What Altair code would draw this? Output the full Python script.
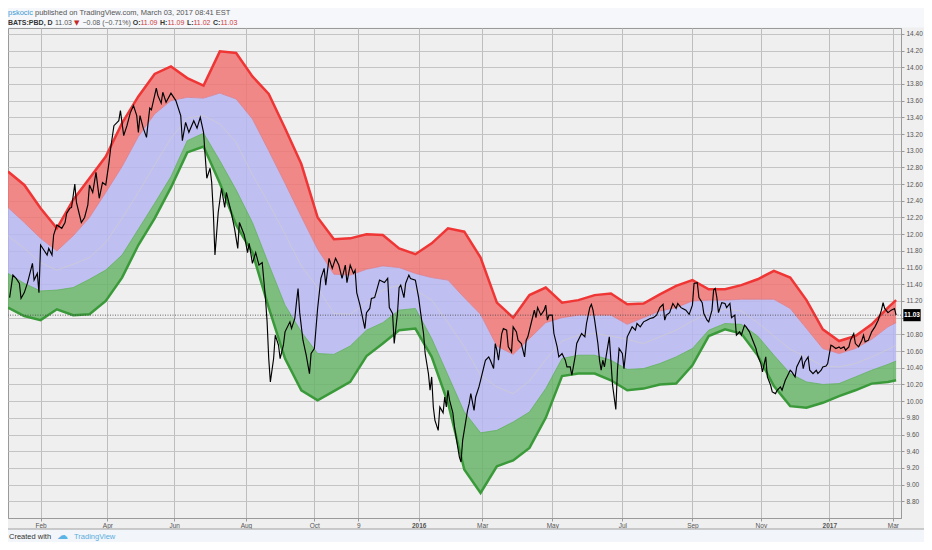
import altair as alt
import pandas as pd

# ---------------- data ----------------
# bar index (trading days since 2 Jan 2015) for the band samples
band_idx = [0, 10, 20, 30, 40, 50, 60, 70, 80, 90, 100, 110, 120, 130, 140, 150, 160, 170, 180, 190,
            200, 210, 220, 230, 240, 250, 260, 270, 280, 290, 300, 310, 320, 330, 340, 350, 360, 370,
            380, 390, 400, 410, 420, 430, 440, 450, 460, 470, 480, 490, 500, 510, 520, 530, 540, 545]
upper = [12.75, 12.59, 12.31, 12.07, 12.41, 12.67, 12.93, 13.33, 13.65, 13.92, 14.01, 13.87, 13.78, 14.19,
         14.17, 13.89, 13.68, 13.27, 12.84, 12.20, 11.94, 11.95, 12.00, 11.99, 11.83, 11.76, 11.89, 12.07,
         12.03, 11.72, 11.18, 11.00, 11.27, 11.36, 11.18, 11.21, 11.27, 11.29, 11.16, 11.17, 11.28, 11.38,
         11.45, 11.34, 11.34, 11.39, 11.46, 11.56, 11.48, 11.21, 10.86, 10.72, 10.78, 10.92, 11.12, 11.21]
upper_in = [12.32, 12.14, 11.95, 11.80, 11.98, 12.20, 12.50, 12.81, 13.17, 13.44, 13.60, 13.64, 13.63, 13.69,
            13.62, 13.38, 13.00, 12.61, 12.21, 11.82, 11.52, 11.51, 11.58, 11.62, 11.60, 11.53, 11.48, 11.45,
            11.24, 11.04, 10.66, 10.56, 10.75, 10.94, 11.00, 11.03, 11.03, 11.03, 10.92, 11.00, 11.08, 11.12,
            11.20, 11.21, 11.21, 11.22, 11.22, 11.22, 11.11, 10.87, 10.63, 10.57, 10.63, 10.74, 10.89, 10.94]
middle = [11.98, 11.83, 11.66, 11.57, 11.64, 11.72, 11.90, 12.19, 12.50, 12.83, 13.15, 13.39, 13.42, 13.32,
          13.10, 12.71, 12.37, 12.00, 11.62, 11.36, 11.05, 11.04, 11.18, 11.33, 11.39, 11.33, 11.21, 10.94,
          10.65, 10.31, 10.17, 10.09, 10.24, 10.50, 10.72, 10.79, 10.81, 10.78, 10.74, 10.69, 10.77, 10.85,
          10.96, 11.06, 11.10, 11.08, 10.94, 10.78, 10.62, 10.53, 10.42, 10.41, 10.45, 10.53, 10.62, 10.67]
lower_in = [11.53, 11.41, 11.32, 11.33, 11.36, 11.46, 11.57, 11.75, 12.06, 12.37, 12.69, 13.12, 13.21, 12.88,
            12.53, 12.14, 11.64, 11.15, 10.83, 10.57, 10.56, 10.66, 10.85, 10.94, 11.09, 11.11, 10.75, 10.31,
            9.87, 9.62, 9.65, 9.75, 9.87, 10.15, 10.51, 10.55, 10.55, 10.49, 10.38, 10.39, 10.45, 10.53,
            10.63, 10.85, 10.93, 10.92, 10.78, 10.55, 10.33, 10.23, 10.20, 10.21, 10.29, 10.37, 10.44, 10.48]
lower = [11.12, 11.02, 10.97, 11.10, 11.03, 11.04, 11.20, 11.48, 11.87, 12.19, 12.56, 12.98, 13.05, 12.61,
         12.11, 11.78, 11.12, 10.51, 10.13, 10.01, 10.12, 10.23, 10.54, 10.69, 10.85, 10.87, 10.53, 9.98,
         9.18, 8.90, 9.22, 9.29, 9.44, 9.80, 10.30, 10.33, 10.33, 10.25, 10.13, 10.15, 10.20, 10.21,
         10.43, 10.78, 10.86, 10.81, 10.55, 10.18, 9.94, 9.92, 9.98, 10.06, 10.13, 10.21, 10.23, 10.25]

price_idx = [1, 3, 5, 7, 8, 10, 12, 15, 16, 18, 19, 20, 21, 24, 25, 27, 28, 30, 33, 35, 36, 38, 39, 41, 42,
             45, 47, 49, 50, 52, 54, 56, 58, 60, 62, 63, 65, 67, 68, 69, 71, 73, 75, 77, 79, 80, 81, 83, 85,
             86, 87, 88, 91, 92, 94, 95, 97, 100, 103, 106, 107, 109, 111, 114, 116, 118, 120, 121, 122, 124,
             125, 126, 127, 129, 131, 133, 134, 137, 139, 141, 142, 145, 147, 148, 150, 152, 154, 156, 158,
             159, 160, 161, 163, 164, 166, 167, 169, 170, 173, 174, 176, 177, 178, 179, 181, 183, 185, 186,
             188, 190, 192, 194, 195, 197, 199, 201, 203, 205, 207, 208, 210, 212, 213, 214, 216, 219, 220,
             222, 223, 225, 228, 231, 233, 234, 236, 237, 239, 240, 241, 243, 244, 246, 247, 250, 252, 253,
             255, 256, 258, 259, 260, 261, 262, 264, 265, 267, 268, 269, 270, 271, 273, 274, 276, 277, 278,
             279, 281, 282, 283, 284, 286, 287, 289, 290, 292, 293, 295, 296, 298, 299, 300, 301, 303, 304,
             306, 307, 309, 310, 312, 313, 315, 317, 318, 319, 321, 323, 324, 325, 327, 329, 330, 331, 332,
             334, 335, 337, 338, 340, 341, 342, 343, 345, 346, 348, 349, 351, 352, 354, 355, 357, 358, 359,
             360, 362, 363, 364, 365, 366, 367, 368, 369, 371, 373, 374, 375, 377, 378, 379, 380, 382, 383,
             385, 386, 388, 390, 392, 394, 396, 398, 400, 402, 403, 404, 406, 408, 410, 411, 413, 414, 416,
             418, 420, 421, 423, 424, 426, 427, 429, 430, 432, 433, 434, 435, 436, 438, 440, 441, 443, 444,
             446, 447, 449, 450, 452, 453, 455, 457, 459, 460, 462, 463, 465, 466, 468, 469, 471, 472, 474,
             475, 477, 478, 480, 481, 483, 484, 486, 487, 488, 489, 491, 492, 494, 496, 497, 499, 500, 502,
             503, 505, 506, 508, 510, 511, 513, 514, 516, 517, 519, 520, 522, 524, 525, 526, 528, 530, 532,
             534, 536, 537, 538, 540, 542, 544, 545]
price_val = [11.24, 11.51, 11.47, 11.41, 11.23, 11.30, 11.42, 11.65, 11.45, 11.53, 11.30, 11.87, 11.84, 11.75,
             11.83, 11.75, 11.99, 12.11, 12.07, 12.14, 12.25, 12.31, 12.32, 12.60, 12.38, 12.14, 12.20, 12.35,
             12.59, 12.50, 12.74, 12.43, 12.62, 12.59, 12.86, 13.03, 13.30, 13.34, 13.36, 13.48, 13.18, 13.30,
             13.45, 13.54, 13.42, 13.22, 13.42, 13.27, 13.16, 13.34, 13.51, 13.49, 13.75, 13.66, 13.57, 13.70,
             13.58, 13.69, 13.60, 13.42, 13.12, 13.34, 13.22, 13.36, 13.27, 13.40, 13.22, 12.94, 12.67, 12.79,
             12.62, 12.26, 11.75, 12.26, 12.55, 12.32, 12.50, 12.26, 12.07, 11.83, 12.14, 11.99, 11.78, 11.89,
             11.65, 11.78, 11.63, 11.66, 11.23, 10.95, 10.51, 10.23, 10.51, 10.79, 10.67, 10.51, 10.67, 10.83,
             10.95, 10.87, 10.99, 11.18, 11.35, 11.06, 10.73, 10.55, 10.33, 10.57, 10.63, 11.11, 11.47, 11.59,
             11.39, 11.71, 11.59, 11.71, 11.63, 11.47, 11.63, 11.42, 11.63, 11.53, 11.57, 11.30, 11.15, 10.87,
             11.06, 11.11, 11.23, 11.24, 11.45, 11.42, 11.47, 11.12, 11.05, 10.69, 11.05, 11.36, 11.39, 11.24,
             11.41, 11.51, 11.47, 11.45, 11.24, 11.09, 10.81, 10.57, 10.33, 10.13, 10.29, 9.93, 9.77, 9.65,
             9.93, 9.86, 10.05, 9.93, 10.13, 10.01, 9.86, 9.69, 9.45, 9.33, 9.27, 9.53, 9.77, 9.89, 9.97,
             10.09, 9.89, 10.05, 10.17, 10.25, 10.41, 10.49, 10.53, 10.49, 10.39, 10.69, 10.61, 10.49, 10.81,
             10.87, 10.85, 10.65, 10.59, 10.89, 10.83, 10.73, 10.69, 10.53, 10.73, 10.77, 10.93, 11.09, 11.00,
             11.12, 11.03, 11.09, 11.15, 10.97, 11.03, 11.03, 10.81, 10.65, 10.53, 10.57, 10.53, 10.49, 10.41,
             10.41, 10.31, 10.53, 10.69, 10.77, 10.81, 10.77, 10.93, 11.12, 11.16, 11.09, 10.97, 10.69, 10.49,
             10.37, 10.49, 10.41, 10.53, 10.65, 10.77, 10.19, 9.90, 10.37, 10.63, 10.57, 10.39, 10.57, 10.77,
             10.85, 10.89, 10.85, 10.93, 10.89, 10.95, 10.97, 10.99, 11.00, 11.03, 11.12, 11.16, 10.97, 11.03,
             11.06, 11.17, 11.11, 11.17, 11.12, 11.11, 11.09, 11.04, 11.15, 11.41, 11.42, 11.24, 11.18, 11.05,
             10.97, 10.95, 11.09, 11.33, 11.35, 11.24, 11.06, 11.18, 11.17, 11.12, 11.17, 11.00, 11.03, 10.79,
             10.83, 10.79, 10.91, 10.89, 10.83, 10.73, 10.63, 10.55, 10.45, 10.35, 10.53, 10.29, 10.19, 10.11,
             10.09, 10.13, 10.17, 10.13, 10.25, 10.29, 10.37, 10.35, 10.29, 10.41, 10.49, 10.53, 10.39, 10.47,
             10.53, 10.37, 10.33, 10.37, 10.33, 10.37, 10.41, 10.42, 10.45, 10.67, 10.66, 10.63, 10.65, 10.63,
             10.65, 10.61, 10.65, 10.73, 10.81, 10.69, 10.65, 10.73, 10.79, 10.71, 10.73, 10.83, 10.89, 10.97,
             11.09, 11.18, 11.11, 11.06, 11.09, 11.11, 11.03]

tick_idx = [20, 61, 102, 146, 188, 215, 252, 291, 334, 377, 420, 462, 504, 543]
tick_lab = ["Feb", "Apr", "Jun", "Aug", "Oct", "9", "2016", "Mar", "May", "Jul", "Sep", "Nov", "2017", "Mar"]
bold_lab = ["2016", "2017"]
y_ticks = [8.8, 9.0, 9.2, 9.4, 9.6, 9.8, 10.0, 10.2, 10.4, 10.6, 10.8, 11.0, 11.2, 11.4, 11.6, 11.8,
           12.0, 12.2, 12.4, 12.6, 12.8, 13.0, 13.2, 13.4, 13.6, 13.8, 14.0, 14.2, 14.4]
hidden_y_label = 11.0   # covered by the last-price tag in the reference
last_close = [11.03]

header_user = "pskocic"
header_rest = "published on TradingView.com, March 03, 2017 08:41 EST"
header_sym = "BATS:PBD, D"
header_last = "11.03"
header_chg = "\u22120.08 (\u22120.71%)"
ohlc_keys = ["O:", "H:", "L:", "C:"]
ohlc_vals = ["11.09", "11.09", "11.02", "11.03"]

# ---------------- chart ----------------
W, H = 893, 490
FONT = "Liberation Sans"

bands = pd.DataFrame({"i": band_idx, "upper": upper, "upper_in": upper_in, "mid": middle,
                      "lower_in": lower_in, "lower": lower})
price = pd.DataFrame({"i": price_idx, "close": price_val})
lastdf = pd.DataFrame({"v": last_close})
one = pd.DataFrame({"k": [0]})

xs = alt.Scale(domain=[0, 548], nice=False, zero=False)
ys = alt.Scale(domain=[8.60, 14.47], nice=False, zero=False)

label_expr = ("[" + ",".join("'%s'" % l for l in tick_lab) + "][indexof(["
              + ",".join(str(t) for t in tick_idx) + "], datum.value)]")
bold_test = " || ".join("datum.value == %d" % t for t, l in zip(tick_idx, tick_lab) if l in bold_lab)
ylabel_expr = "abs(datum.value - %s) < 0.001 ? '' : format(datum.value, '.2f')" % hidden_y_label

xaxis = alt.Axis(values=tick_idx, labelExpr=label_expr, title=None, orient="bottom", grid=True,
                 gridColor="#bdbdbd", gridWidth=1, tickSize=3, tickColor="#9a9a9a", domainColor="#9a9a9a",
                 labelFontSize=6.5, labelColor="#555555", labelPadding=1, labelFont=FONT,
                 labelFontWeight={"condition": {"test": bold_test, "value": "bold"}, "value": "normal"})
yaxis = alt.Axis(values=y_ticks, labelExpr=ylabel_expr, title=None, orient="right", grid=True,
                 gridColor="#c4c4c4", gridWidth=1, tickSize=3, tickColor="#9a9a9a", domainColor="#9a9a9a",
                 labelFontSize=6.5, labelColor="#555555", labelPadding=2, labelFont=FONT)

X = alt.X("i:Q", scale=xs, axis=xaxis)


def Y(f):
    return alt.Y(f + ":Q", scale=ys, axis=yaxis)


base = alt.Chart(bands)
red_fill = base.mark_area(color="#f07676", opacity=0.85).encode(x=X, y=Y("upper"), y2="upper_in")
blue_fill = base.mark_area(color="#b6b6f2", opacity=0.85).encode(x=X, y=Y("upper_in"), y2="lower_in")
green_fill = base.mark_area(color="#68b468", opacity=0.85).encode(x=X, y=Y("lower_in"), y2="lower")
ui_line = base.mark_line(color="#e07a86", strokeWidth=0.8).encode(x=X, y=Y("upper_in"))
mid_line = base.mark_line(color="#d6d0c2", strokeWidth=0.8, opacity=0.7).encode(x=X, y=Y("mid"))
li_line = base.mark_line(color="#5fae5f", strokeWidth=0.8).encode(x=X, y=Y("lower_in"))
up_line = base.mark_line(color="#f03535", strokeWidth=2.5).encode(x=X, y=Y("upper"))
lo_line = base.mark_line(color="#3a9a3a", strokeWidth=2.5).encode(x=X, y=Y("lower"))
price_line = alt.Chart(price).mark_line(color="#000000", strokeWidth=1.15).encode(x=X, y=Y("close"))

last_rule = alt.Chart(lastdf).mark_rule(color="#444444", strokeWidth=0.8, strokeDash=[1, 1.5]).encode(y=Y("v"))
last_box = alt.Chart(lastdf).mark_point(shape="M-1,-0.7L1,-0.7L1,0.7L-1,0.7Z", filled=True, opacity=1,
                                        color="#000000", size=300).encode(x=alt.value(W + 11), y=Y("v"))
last_txt = alt.Chart(lastdf).mark_text(color="#ffffff", fontWeight="bold", fontSize=6.5, font=FONT,
                                       align="center", baseline="middle").encode(
    x=alt.value(W + 11), y=Y("v"), text=alt.Text("v:Q", format=".2f"))

# decoration strips (header / footer)
head_rect = alt.Chart(one).mark_rect(color="#f5f7fa").encode(
    x=alt.value(0), x2=alt.value(W + 23), y=alt.value(-20), y2=alt.value(-0.5))
foot_rect = alt.Chart(one).mark_rect(color="#f2f5f9").encode(
    x=alt.value(0), x2=alt.value(W + 23), y=alt.value(501), y2=alt.value(514))
foot_rule = alt.Chart(one).mark_rule(color="#a0a0a0").encode(
    x=alt.value(0), x2=alt.value(W + 23), y=alt.value(501))


def txt(s, x, y, color="#555555", size=7.5, weight="normal", font=FONT, baseline="alphabetic"):
    return alt.Chart(one).mark_text(align="left", baseline=baseline, fontSize=size, color=color,
                                    fontWeight=weight, font=font).encode(
        x=alt.value(x), y=alt.value(y), text=alt.value(s))


RED = "#cf3b3b"
texts = [
    txt(header_user, 0, -13, color="#3d9ad6"),
    txt(header_rest, 27, -13, color="#555555"),
    txt(header_sym, 0, -3, color="#333333", size=7, weight="bold"),
    txt(header_last, 47, -3, size=7),
    txt("\u25bc", 66, -3, color="#c62828", size=7, font="DejaVu Sans"),
    txt(header_chg, 74.5, -3, size=7),
]
key_x = [124.7, 152, 178.9, 205]
val_x = [132.5, 159.4, 185.5, 212.4]
for k, v, kx, vx in zip(ohlc_keys, ohlc_vals, key_x, val_x):
    texts.append(txt(k, kx, -3, color="#333333", size=7, weight="bold"))
    texts.append(txt(v, vx, -3, color=RED, size=7))

texts.append(txt("Created with", 1, 511, color="#333333", size=7.5))
texts.append(txt("\u2601", 49, 508, color="#5cb3e6", size=11, font="DejaVu Sans", baseline="middle"))
texts.append(txt("TradingView", 66, 511, color="#5aaee0", size=7.5))

chart = alt.layer(
    head_rect, foot_rect, foot_rule,
    red_fill, blue_fill, green_fill,
    mid_line, ui_line, li_line, up_line, lo_line,
    last_rule, price_line, last_box, last_txt,
    *texts
).properties(
    width=W, height=H,
    padding={"left": 0, "top": 20, "right": 23, "bottom": 24},
    autosize=alt.AutoSizeParams(type="none"),
).configure(background="#efefef").configure_view(fill="#efefef", stroke="#9a9a9a", strokeWidth=1)

chart.save("out.html", embed_options={"renderer": "svg", "actions": False})
